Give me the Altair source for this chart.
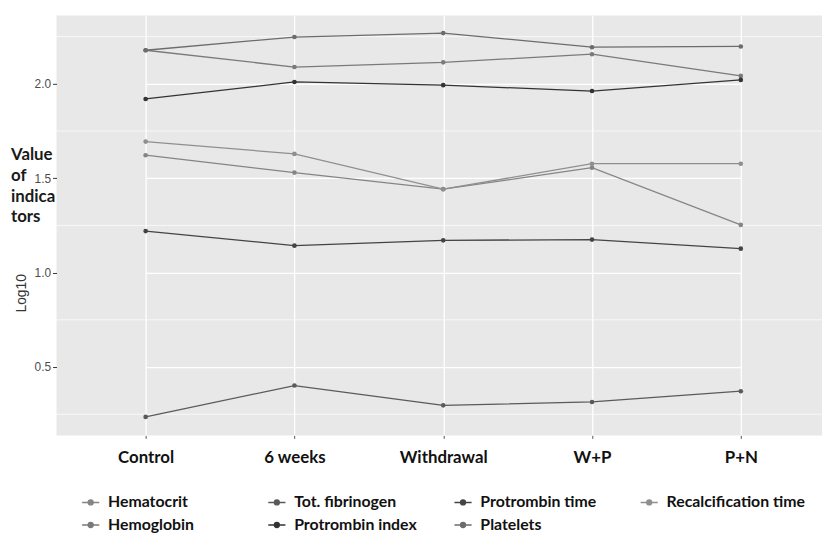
import altair as alt
import pandas as pd

stages = ["Control", "6 weeks", "Withdrawal", "W+P", "P+N"]

hematocrit = [1.622, 1.530, 1.442, 1.556, 1.253]
hemoglobin = [2.178, 2.089, 2.114, 2.157, 2.042]
tot_fibrinogen = [0.236, 0.402, 0.297, 0.315, 0.372]
protrombin_time = [1.220, 1.143, 1.171, 1.175, 1.127]
protrombin_index = [1.920, 2.010, 1.993, 1.962, 2.021]
platelets = [2.178, 2.248, 2.269, 2.194, 2.198]
recalcification_time = [1.694, 1.629, 1.442, 1.577, 1.577]

# legend order (row-major, 4 columns)
series_names = ["Hematocrit", "Tot. fibrinogen", "Protrombin time", "Recalcification time",
                "Hemoglobin", "Protrombin index", "Platelets"]
series_values = [hematocrit, tot_fibrinogen, protrombin_time, recalcification_time,
                 hemoglobin, protrombin_index, platelets]
series_colors = ["#858585", "#5a5a5a", "#444444", "#8f8f8f",
                 "#7a7a7a", "#333333", "#6c6c6c"]

major_ticks = [0.5, 1.0, 1.5, 2.0]
minor_ticks = [0.25, 0.75, 1.25, 1.75, 2.25]

rows = []
for name, vals in zip(series_names, series_values):
    for st, v in zip(stages, vals):
        rows.append({"stage": st, "value": v, "indicator": name})
df = pd.DataFrame(rows)
minor_df = pd.DataFrame({"value": minor_ticks})

yscale = alt.Scale(domain=[0.138, 2.362], nice=False, zero=False)
xscale = alt.Scale(type="point", range=[90, 691], padding=0)
color_scale = alt.Scale(domain=series_names, range=series_colors)

x_axis = alt.Axis(title=None, labelAngle=0, grid=True, gridColor="white",
                  gridWidth=1.3, domain=False, ticks=True, tickColor="#555555",
                  tickSize=3, labelFont="Lato", labelFontWeight="bold",
                  labelFontSize=17, labelColor="#111111", labelPadding=11)
y_axis = alt.Axis(title="Log10", values=major_ticks, format=".1f", grid=True,
                  gridColor="white", gridWidth=1.3, domain=False,
                  tickColor="#333333", tickSize=4, labelFont="Liberation Sans",
                  labelFontSize=12, labelColor="#4d4d4d", labelPadding=2,
                  titleFont="Liberation Sans", titleFontSize=14,
                  titleFontWeight="normal", titleColor="#333333",
                  titleAngle=270, titleX=-35, titleY=280,
                  titleAlign="center", titleBaseline="middle")

minor = alt.Chart(minor_df).mark_rule(color="white", strokeWidth=0.7).encode(
    y=alt.Y("value:Q", scale=yscale, axis=y_axis))

sym_path = "M-1,0H1M-0.28,0a0.28,0.28 0 1,0 0.56,0a0.28,0.28 0 1,0 -0.56,0"

lines = alt.Chart(df).mark_line(strokeWidth=1.3).encode(
    x=alt.X("stage:N", sort=stages, scale=xscale, axis=x_axis),
    y=alt.Y("value:Q", scale=yscale, axis=y_axis),
    color=alt.Color("indicator:N", scale=color_scale, sort=series_names,
                    legend=alt.Legend(orient="none", legendX=25, legendY=482,
                                      direction="horizontal", columns=4, gridAlign="all",
                                      title=None, labelFont="Lato", labelFontWeight="bold",
                                      labelFontSize=16, labelColor="#111111",
                                      symbolType=sym_path, symbolSize=300,
                                      symbolStrokeWidth=1.5, labelOffset=8,
                                      columnPadding=18, rowPadding=5)),
    detail="indicator:N")

points = alt.Chart(df).mark_point(filled=True, size=22, opacity=1).encode(
    x=alt.X("stage:N", sort=stages, scale=xscale, axis=x_axis),
    y=alt.Y("value:Q", scale=yscale, axis=y_axis),
    color=alt.Color("indicator:N", scale=color_scale, legend=None))

label = alt.Chart(pd.DataFrame({"a": [0]})).mark_text(
    align="left", baseline="top", font="Lato", fontWeight="bold", fontSize=17,
    lineHeight=21, color="#1a1a1a").encode(
    x=alt.value(-46), y=alt.value(133),
    text=alt.value(["Value", "of", "indica", "tors"]))

chart = alt.layer(minor, lines, points, label).properties(
    width=773, height=424,
    padding={"left": 49, "top": 5, "right": 0, "bottom": 96},
    autosize=alt.AutoSizeParams(type="none"),
    background="white",
).configure_view(fill="#e8e8e8", stroke=None)

chart.save("out.html", embed_options={"renderer": "svg", "actions": False})
